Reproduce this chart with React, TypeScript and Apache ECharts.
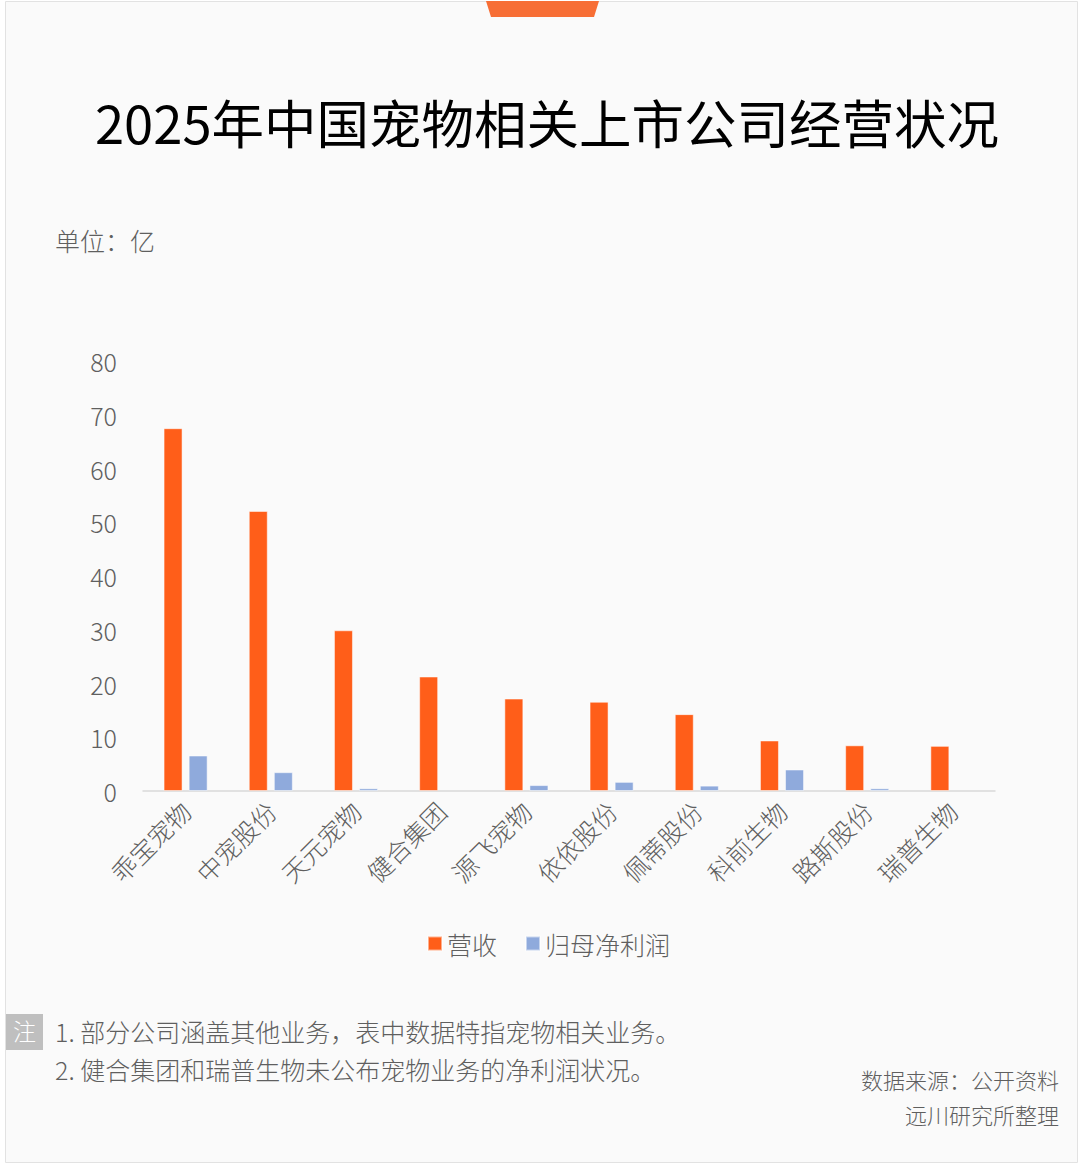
import React, { useEffect, useRef } from "react";
import * as echarts from "echarts";

const categories = ["乖宝宠物", "中宠股份", "天元宠物", "健合集团", "源飞宠物", "依依股份", "佩蒂股份", "科前生物", "路斯股份", "瑞普生物"];
const revenue = [67.5, 52.1, 29.9, 21.3, 17.2, 16.6, 14.3, 9.4, 8.5, 8.4];
const netProfit: (number | null)[] = [6.6, 3.5, 0.5, null, 1.1, 1.7, 1.0, 4.0, 0.5, null];
const seriesNames = ["营收", "归母净利润"];
const titleText = "2025年中国宠物相关上市公司经营状况";
const unitText = "单位：亿";
const notes = ["1. 部分公司涵盖其他业务，表中数据特指宠物相关业务。", "2. 健合集团和瑞普生物未公布宠物业务的净利润状况。"];
const sources = ["数据来源：公开资料", "远川研究所整理"];

const FONT = "'Noto Sans CJK SC', 'Noto Sans', sans-serif";
const GRAY = "#5f5f5f";

export default function App() {
  const ref = useRef<HTMLDivElement>(null);
  useEffect(() => {
    document.body.style.margin = "0";
    const chart = echarts.init(ref.current!, undefined, { renderer: "svg" });
    chart.setOption({
      animation: false,
      backgroundColor: "#ffffff",
      textStyle: { fontFamily: FONT },
      graphic: [
        {
          type: "rect",
          z: -10,
          shape: { x: 5.5, y: 1.5, width: 1072, height: 1161 },
          style: { fill: "#fafafa", stroke: "#e2e2e2", lineWidth: 1 },
        },
        {
          type: "polygon",
          shape: { points: [[486, 1], [599, 1], [594, 17], [491, 17]] },
          style: { fill: "#f76e35" },
        },
        {
          type: "text",
          x: 547,
          y: 121,
          style: { text: titleText, fill: "#000000", font: `400 52.5px ${FONT}`, align: "center", verticalAlign: "middle" },
        },
        {
          type: "text",
          x: 55,
          y: 240,
          style: { text: unitText, fill: GRAY, font: `300 25px ${FONT}`, align: "left", verticalAlign: "middle" },
        },
        {
          type: "rect",
          shape: { x: 6, y: 1014, width: 37, height: 36 },
          style: { fill: "#bfbfbf" },
        },
        {
          type: "text",
          x: 24.5,
          y: 1030,
          style: { text: "注", fill: "#ffffff", font: `300 23px ${FONT}`, align: "center", verticalAlign: "middle" },
        },
        {
          type: "text",
          x: 55,
          y: 1031,
          style: { text: notes[0], fill: GRAY, font: `300 25px ${FONT}`, align: "left", verticalAlign: "middle" },
        },
        {
          type: "text",
          x: 55,
          y: 1069,
          style: { text: notes[1], fill: GRAY, font: `300 25px ${FONT}`, align: "left", verticalAlign: "middle" },
        },
        {
          type: "text",
          x: 1059,
          y: 1079,
          style: { text: sources[0], fill: GRAY, font: `300 22px ${FONT}`, align: "right", verticalAlign: "middle" },
        },
        {
          type: "text",
          x: 1059,
          y: 1114,
          style: { text: sources[1], fill: GRAY, font: `300 22px ${FONT}`, align: "right", verticalAlign: "middle" },
        },
      ],
      legend: {
        data: seriesNames,
        top: 926,
        left: 422,
        itemWidth: 14,
        itemHeight: 14,
        itemGap: 28,
        icon: "rect",
        textStyle: { color: GRAY, fontSize: 25, fontWeight: 300, fontFamily: FONT },
      },
      grid: { left: 143, right: 85, top: 361, bottom: 374, containLabel: false },
      xAxis: {
        type: "category",
        data: categories,
        axisLine: { lineStyle: { color: "#d9d9d9", width: 1.5 } },
        axisTick: { show: false },
        axisLabel: { interval: 0, rotate: 45, margin: 15, color: GRAY, fontSize: 25, fontWeight: 300, fontFamily: FONT },
      },
      yAxis: {
        type: "value",
        min: 0,
        max: 80,
        interval: 10,
        splitLine: { show: false },
        axisLine: { show: false },
        axisTick: { show: false },
        axisLabel: { margin: 26, color: GRAY, fontSize: 25, fontWeight: 300, fontFamily: FONT, padding: [0, 0, 5, 0] },
      },
      series: [
        {
          name: seriesNames[0],
          type: "bar",
          data: revenue,
          barWidth: 19,
          barGap: "32%",
          itemStyle: { color: "#ff5e19", borderColor: "rgba(255,255,255,0.5)", borderWidth: 1 },
        },
        {
          name: seriesNames[1],
          type: "bar",
          data: netProfit,
          barWidth: 19,
          itemStyle: { color: "#8faadc", borderColor: "rgba(255,255,255,0.5)", borderWidth: 1 },
        },
      ],
    });
    return () => chart.dispose();
  }, []);
  return (
    <div style={{ position: "absolute", left: 0, top: 0 }}>
      <div ref={ref} style={{ width: 1080, height: 1165 }} />
    </div>
  );
}
